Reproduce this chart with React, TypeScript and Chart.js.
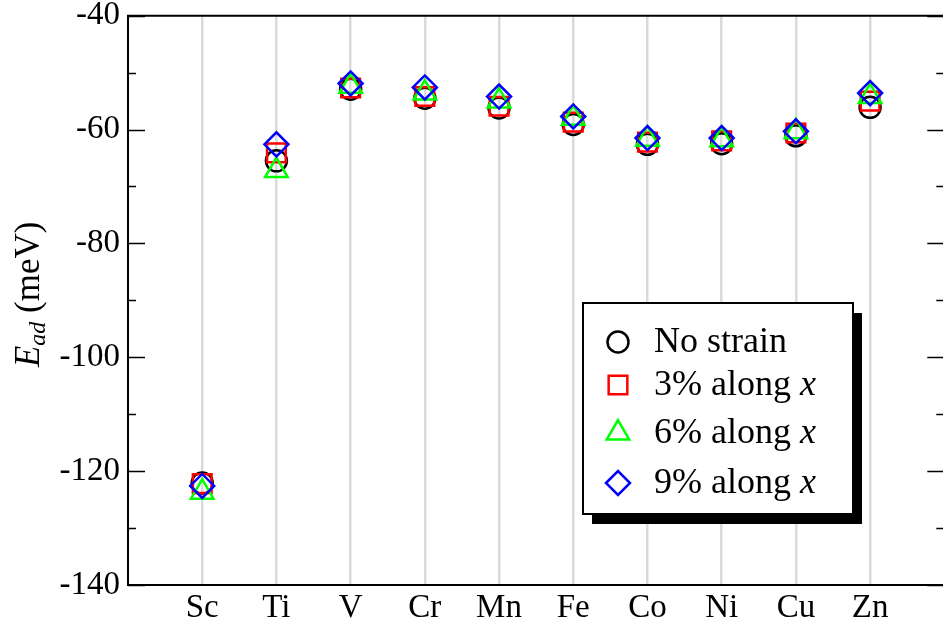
import React, { useEffect, useRef } from 'react';
import { Chart, registerables } from 'chart.js';
import { drawPoint } from 'chart.js/helpers';

Chart.register(...registerables);

const categories = ['Sc', 'Ti', 'V', 'Cr', 'Mn', 'Fe', 'Co', 'Ni', 'Cu', 'Zn'];
const noStrain = [-122.1, -65.5, -52.9, -54.5, -56.2, -59.1, -62.6, -62.5, -61.1, -56.1];
const strain3 = [-122.2, -64.1, -52.7, -54.2, -55.9, -58.7, -62.2, -62.0, -60.6, -55.0];
const strain6 = [-123.7, -67.2, -52.4, -53.6, -55.0, -58.0, -61.7, -61.8, -60.4, -54.2];
const strain9 = [-122.6, -62.6, -51.9, -52.6, -54.2, -57.7, -61.5, -61.5, -60.3, -53.6];

const seriesNames = ['No strain', '3% along ', '6% along ', '9% along '];
const seriesItalic = ['', 'x', 'x', 'x'];
const yTicksMin = -140;
const yTicksMax = -40;

const FONT = "'Liberation Serif', 'Times New Roman', serif";

const toPts = (arr: number[]) => arr.map((v, i) => ({ x: i, y: v }));

const framePlugin = {
  id: 'frame',
  afterDraw(chart: any) {
    const { ctx, chartArea } = chart;
    const { left, right, top, bottom } = chartArea;
    const ys = chart.scales.y;
    ctx.save();
    ctx.strokeStyle = '#000';
    ctx.lineWidth = 2;
    ctx.beginPath();
    ctx.rect(left, top, right - left, bottom - top);
    ctx.stroke();
    ctx.lineWidth = 1.5;
    for (let v = yTicksMin; v <= yTicksMax; v += 10) {
      const y = Math.round(ys.getPixelForValue(v)) + 0.5;
      const len = v % 20 === 0 ? 17 : 8;
      ctx.beginPath();
      ctx.moveTo(left, y);
      ctx.lineTo(left + len, y);
      ctx.moveTo(right - len, y);
      ctx.lineTo(right, y);
      ctx.stroke();
    }
    // y-axis title
    ctx.fillStyle = '#000';
    ctx.translate(39, (top + bottom) / 2 - 6);
    ctx.rotate(-Math.PI / 2);
    ctx.textBaseline = 'alphabetic';
    ctx.textAlign = 'left';
    const fMain = `italic 35px ${FONT}`;
    const fSub = `italic 24px ${FONT}`;
    const fReg = `35px ${FONT}`;
    ctx.font = fMain;
    const wE = ctx.measureText('E').width;
    ctx.font = fSub;
    const wS = ctx.measureText('ad').width;
    ctx.font = fReg;
    const wR = ctx.measureText(' (meV)').width;
    let x0 = -(wE + wS + wR) / 2;
    ctx.font = fMain;
    ctx.fillText('E', x0, 0);
    x0 += wE;
    ctx.font = fSub;
    ctx.fillText('ad', x0, 6);
    x0 += wS;
    ctx.font = fReg;
    ctx.fillText(' (meV)', x0, 0);
    ctx.restore();

    // legend
    ctx.save();
    const bx = 583, by = 303, bw = 270, bh = 211;
    ctx.fillStyle = '#000';
    ctx.fillRect(bx + 9, by + 10, bw, bh);
    ctx.fillStyle = '#fff';
    ctx.fillRect(bx, by, bw, bh);
    ctx.strokeStyle = '#000';
    ctx.lineWidth = 2;
    ctx.strokeRect(bx, by, bw, bh);
    const rowY = [342, 385, 433, 483];
    chart.data.datasets.forEach((ds: any, i: number) => {
      const y = rowY[i];
      ctx.strokeStyle = ds.borderColor;
      ctx.fillStyle = 'rgba(0,0,0,0)';
      ctx.lineWidth = ds.borderWidth;
      drawPoint(ctx, {
        pointStyle: ds.pointStyle,
        radius: ds.pointRadius,
        rotation: 0,
        borderWidth: ds.borderWidth,
      }, 618, y);
      ctx.fillStyle = '#000';
      ctx.font = `36px ${FONT}`;
      ctx.textBaseline = 'middle';
      ctx.textAlign = 'left';
      ctx.fillText(seriesNames[i], 654, y + 1);
      if (seriesItalic[i]) {
        const w = ctx.measureText(seriesNames[i]).width;
        ctx.font = `italic 36px ${FONT}`;
        ctx.fillText(seriesItalic[i], 654 + w, y + 1);
      }
    });
    ctx.restore();
  },
};

export default function App() {
  const ref = useRef<HTMLCanvasElement>(null);
  useEffect(() => {
    const canvas = ref.current!;
    const chart = new Chart(canvas, {
      type: 'scatter',
      data: {
        datasets: [
          { label: 'No strain', data: toPts(noStrain), pointStyle: 'circle', pointRadius: 10.5, borderColor: '#000000', backgroundColor: 'rgba(0,0,0,0)', borderWidth: 2.5, order: 4 },
          { label: '3% along x', data: toPts(strain3), pointStyle: 'rect', pointRadius: 13.2, borderColor: '#ff0000', backgroundColor: 'rgba(0,0,0,0)', borderWidth: 2.5, order: 3 },
          { label: '6% along x', data: toPts(strain6), pointStyle: 'triangle', pointRadius: 13, borderColor: '#00ff00', backgroundColor: 'rgba(0,0,0,0)', borderWidth: 2.5, order: 2 },
          { label: '9% along x', data: toPts(strain9), pointStyle: 'rectRot', pointRadius: 12, borderColor: '#0000ff', backgroundColor: 'rgba(0,0,0,0)', borderWidth: 2.5, order: 1 },
        ] as any,
      },
      options: {
        animation: false,
        responsive: false,
        devicePixelRatio: 1,
        layout: { padding: { top: 14, right: 15, left: 0, bottom: 0 } },
        plugins: { legend: { display: false }, tooltip: { enabled: false } },
        scales: {
          x: {
            type: 'linear',
            min: -1,
            max: 10,
            afterFit: (s: any) => { s.height = 35; s.paddingLeft = 0; s.paddingRight = 0; },
            afterBuildTicks: (s: any) => { s.ticks = [-1, 0, 1, 2, 3, 4, 5, 6, 7, 8, 9, 10].map((v) => ({ value: v })); },
            ticks: {
              autoSkip: false,
              maxRotation: 0,
              padding: 4,
              color: '#000',
              font: { family: FONT, size: 33 },
              callback: (v: any) => categories[v] ?? '',
            },
            grid: {
              drawTicks: false,
              lineWidth: 2.5,
              color: (c: any) => (c.tick && c.tick.value >= 0 && c.tick.value < categories.length ? '#dadada' : 'rgba(0,0,0,0)'),
            },
            border: { display: false },
          },
          y: {
            min: yTicksMin,
            max: yTicksMax,
            afterFit: (s: any) => { s.width = 128; s.paddingTop = 0; s.paddingBottom = 0; },
            ticks: {
              stepSize: 10,
              padding: 8,
              color: '#000',
              font: { family: FONT, size: 33 },
              callback: (v: any) => (v % 20 === 0 ? String(v) : ''),
            },
            grid: { display: false, drawTicks: false },
            border: { display: false },
          },
        },
      } as any,
      plugins: [framePlugin],
    });
    return () => chart.destroy();
  }, []);
  return (
    <div style={{ position: 'fixed', left: 0, top: 0, width: 960, height: 620 }}>
      <canvas ref={ref} width={960} height={620} style={{ width: 960, height: 620 }} />
    </div>
  );
}
